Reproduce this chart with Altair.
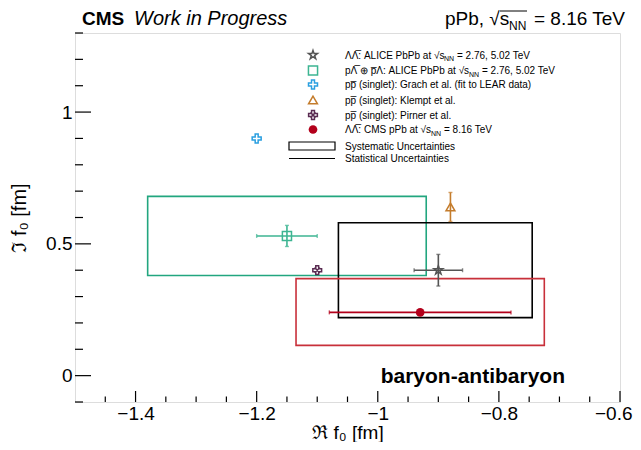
import altair as alt
import pandas as pd

FONT = "Liberation Sans"

# ---------------- data ----------------
names = ["ALICE_LL", "ALICE_pL", "Grach", "Klempt", "Pirner", "CMS"]
re_vals = [-0.90, -1.15, -1.20, -0.88, -1.10, -0.93]
im_vals = [0.40, 0.53, 0.90, 0.64, 0.40, 0.24]
re_stat = [0.04, 0.05, 0.0, 0.0, 0.0, 0.15]
im_stat = [0.06, 0.04, 0.0, 0.055, 0.0, 0.01]

sys_names = ["ALICE_pL", "ALICE_LL", "CMS"]
sys_re_lo = [-1.38, -1.065, -1.135]
sys_re_hi = [-0.92, -0.745, -0.725]
sys_im_lo = [0.38, 0.22, 0.115]
sys_im_hi = [0.68, 0.58, 0.368]

x_major = [-1.4, -1.2, -1.0, -0.8, -0.6]
x_minor = [-1.45, -1.35, -1.3, -1.25, -1.15, -1.1, -1.05, -0.95, -0.9, -0.85, -0.75, -0.7, -0.65]
y_major = [0.0, 0.5, 1.0]
y_minor = [-0.1, 0.1, 0.2, 0.3, 0.4, 0.6, 0.7, 0.8, 0.9, 1.1, 1.2, 1.3]

OL = "\u0305"
legend_pre = ["ΛΛ" + OL + ": ALICE PbPb at √s", "pΛ" + OL + " ⊕ p" + OL + "Λ: ALICE PbPb at √s",
              "pp" + OL + " (singlet): Grach et al. (fit to LEAR data)", "pp" + OL + " (singlet): Klempt et al.",
              "pp" + OL + " (singlet): Pirner et al.", "ΛΛ" + OL + ": CMS pPb at √s"]
legend_sub = ["NN", "NN", "", "", "", "NN"]
legend_post = ["= 2.76, 5.02 TeV", "= 2.76, 5.02 TeV", "", "", "", "= 8.16 TeV"]

# ---------------- styles ----------------
STAR = "M0,-1L0.2245,-0.309L0.951,-0.309L0.363,0.118L0.588,0.809L0,0.382L-0.588,0.809L-0.363,0.118L-0.951,-0.309L-0.2245,-0.309Z"
OCROSS = "M-0.33,-1H0.33V-0.33H1V0.33H0.33V1H-0.33V0.33H-1V-0.33H-0.33Z"
XCROSS = OCROSS + "M-0.6,-0.6L0.6,0.6M-0.6,0.6L0.6,-0.6"
colors = ["#000000", "#22a67f", "#2a9fe0", "#c47c2c", "#5a2c52", "#b3001b"]
bar_colors = ["#555555", "#3db592", "#2a9fe0", "#c47c2c", "#5a2c52", "#b3001b"]
shapes = [STAR, "square", OCROSS, "triangle-up", XCROSS, "circle"]
sizes = [85, 75, 100, 85, 80, 70]
box_colors = {"ALICE_LL": "#000000", "ALICE_pL": "#22a67f", "CMS": "#c8303a"}

W, H = 545, 369

df = pd.DataFrame({"name": names, "re": re_vals, "im": im_vals,
                   "re_lo": [r - e for r, e in zip(re_vals, re_stat)],
                   "re_hi": [r + e for r, e in zip(re_vals, re_stat)],
                   "im_lo": [r - e for r, e in zip(im_vals, im_stat)],
                   "im_hi": [r + e for r, e in zip(im_vals, im_stat)],
                   "re_err": re_stat, "im_err": im_stat})
sys_df = pd.DataFrame({"name": sys_names, "x1": sys_re_lo, "x2": sys_re_hi,
                       "y1": sys_im_lo, "y2": sys_im_hi})

xs = alt.Scale(domain=[-1.5, -0.6], nice=False, zero=False)
ys = alt.Scale(domain=[-0.1, 1.3], nice=False, zero=False)
bar_scale = alt.Scale(domain=names, range=bar_colors)
col_scale = alt.Scale(domain=names, range=colors)
shape_scale = alt.Scale(domain=names, range=shapes)
size_scale = alt.Scale(domain=names, range=sizes)

xaxis = alt.Axis(values=x_major, format="~g", ticks=False, domain=False, grid=False,
                 labelFont=FONT, labelFontSize=19, labelColor="black", labelPadding=2,
                 labelOverlap=False, labelFlush=True, labelFlushOffset=12, labelBound=False,
                 title="ℜ f₀ [fm]", titleFont=FONT, titleFontSize=19, titleFontWeight="normal",
                 titleColor="black", titleBaseline="alphabetic", titleY=36)
yaxis = alt.Axis(values=y_major, format="~g", ticks=False, domain=False, grid=False,
                 labelFont=FONT, labelFontSize=19, labelColor="black", labelPadding=3,
                 labelOverlap=False, labelFlush=False, labelBound=False,
                 title="ℑ f₀ [fm]", titleFont=FONT, titleFontSize=20, titleFontWeight="normal",
                 titleColor="black", titlePadding=16)

boxes = alt.Chart(sys_df).mark_rect(fillOpacity=0, strokeWidth=1.6).encode(
    x=alt.X("x1:Q", scale=xs, axis=xaxis), x2="x2:Q",
    y=alt.Y("y1:Q", scale=ys, axis=yaxis), y2="y2:Q",
    stroke=alt.Stroke("name:N", scale=alt.Scale(domain=list(box_colors.keys()),
                                                range=list(box_colors.values())), legend=None))

dfx = df[df.re_err > 0]
dfy = df[df.im_err > 0]
bcol = alt.Color("name:N", scale=bar_scale, legend=None)
xbars = alt.Chart(dfx).mark_rule(strokeWidth=1.6).encode(x="re_lo:Q", x2="re_hi:Q", y="im:Q", color=bcol)
xcap1 = alt.Chart(dfx).mark_tick(orient="vertical", size=4, thickness=1.4).encode(x="re_lo:Q", y="im:Q", color=bcol)
xcap2 = alt.Chart(dfx).mark_tick(orient="vertical", size=4, thickness=1.4).encode(x="re_hi:Q", y="im:Q", color=bcol)
ybars = alt.Chart(dfy).mark_rule(strokeWidth=1.6).encode(x="re:Q", y="im_lo:Q", y2="im_hi:Q", color=bcol)
ycap1 = alt.Chart(dfy).mark_tick(orient="horizontal", size=4, thickness=1.4).encode(x="re:Q", y="im_lo:Q", color=bcol)
ycap2 = alt.Chart(dfy).mark_tick(orient="horizontal", size=4, thickness=1.4).encode(x="re:Q", y="im_hi:Q", color=bcol)

pt_enc = dict(shape=alt.Shape("name:N", scale=shape_scale, legend=None),
              color=alt.Color("name:N", scale=col_scale, legend=None),
              size=alt.Size("name:N", scale=size_scale, legend=None))
open_pts = alt.Chart(df[df.name != "CMS"]).mark_point(filled=False, strokeWidth=1.5, opacity=1).encode(
    x="re:Q", y="im:Q", **pt_enc)
filled_pts = alt.Chart(df[df.name == "CMS"]).mark_point(filled=True, opacity=1).encode(
    x="re:Q", y="im:Q", **pt_enc)

# ticks (inside the frame), placed through the scales
tick_layers = [
    alt.Chart(pd.DataFrame({"v": x_major})).mark_rule(color="black", strokeWidth=1.2).encode(x="v:Q", y=alt.value(H), y2=alt.value(H - 11)),
    alt.Chart(pd.DataFrame({"v": x_minor})).mark_rule(color="black", strokeWidth=1.2).encode(x="v:Q", y=alt.value(H), y2=alt.value(H - 5.5)),
    alt.Chart(pd.DataFrame({"v": y_major})).mark_rule(color="black", strokeWidth=1.2).encode(y="v:Q", x=alt.value(0), x2=alt.value(16)),
    alt.Chart(pd.DataFrame({"v": y_minor})).mark_rule(color="black", strokeWidth=1.2).encode(y="v:Q", x=alt.value(0), x2=alt.value(8)),
]

one = pd.DataFrame({"a": [0]})


def txt(s, x, y, size, weight="normal", style="normal", align="left", baseline="alphabetic"):
    return alt.Chart(one).mark_text(text=s, font=FONT, fontSize=size, fontWeight=weight,
                                    fontStyle=style, align=align, baseline=baseline,
                                    color="black").encode(x=alt.value(x), y=alt.value(y))


# legend
leg_y = [22, 37.5, 51.5, 67, 82, 96.5]
leg_mx, leg_tx = 238, 270
sub_dx = [99, 124, 0, 0, 0, 86]
legend_layers = []
for i, nm in enumerate(names):
    legend_layers.append(
        alt.Chart(pd.DataFrame({"name": [nm]})).mark_point(filled=(nm == "CMS"), strokeWidth=1.5, opacity=1).encode(
            x=alt.value(leg_mx), y=alt.value(leg_y[i]), **pt_enc))
    legend_layers.append(txt(legend_pre[i], leg_tx, leg_y[i] + 3.5, 10))
    if legend_sub[i]:
        legend_layers.append(txt(legend_sub[i], leg_tx + sub_dx[i], leg_y[i] + 6, 7))
        legend_layers.append(txt(legend_post[i], leg_tx + sub_dx[i] + 13, leg_y[i] + 3.5, 10))
legend_layers.append(alt.Chart(one).mark_rect(fillOpacity=0, stroke="black", strokeWidth=1.2).encode(
    x=alt.value(214), x2=alt.value(260), y=alt.value(109), y2=alt.value(117)))
legend_layers.append(alt.Chart(one).mark_rule(color="black", strokeWidth=1.2).encode(
    x=alt.value(214), x2=alt.value(260), y=alt.value(125.5)))
legend_layers.append(txt("Systematic Uncertainties", leg_tx, 116.5, 10))
legend_layers.append(txt("Statistical Uncertainties", leg_tx, 129, 10))

# header and labels
header = [
    txt("CMS", 7, -8, 19, weight="bold"),
    txt("Work in Progress", 59, -8, 20, style="italic"),
    txt("pPb, √s", 370, -8, 19),
    txt("NN", 434, -3, 12),
    txt("= 8.16 TeV", 550, -8, 19, align="right"),
    txt("baryon-antibaryon", 490, 350, 21, weight="bold", align="right"),
    alt.Chart(one).mark_rule(color="black", strokeWidth=1).encode(
        x=alt.value(425), x2=alt.value(452), y=alt.value(-22)),
]

chart = alt.layer(boxes, xbars, xcap1, xcap2, ybars, ycap1, ycap2, open_pts, filled_pts,
                  *tick_layers, *legend_layers, *header).properties(
    width=W, height=H,
    autosize=alt.AutoSizeParams(type="none"),
    padding={"left": 67, "top": 25, "right": 13, "bottom": 40},
).configure_view(stroke="black", strokeWidth=1.6).configure(background="white")

chart.save("out.html", embed_options={"renderer": "svg", "actions": False})
